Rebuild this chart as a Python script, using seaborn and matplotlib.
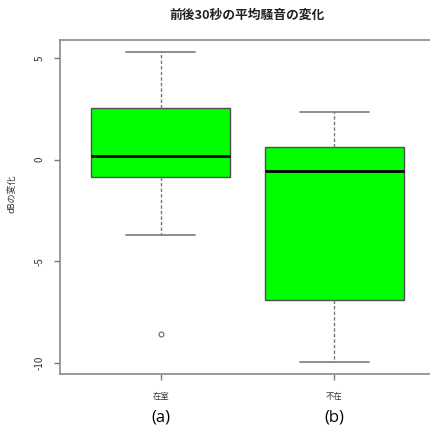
import pandas as pd
import seaborn as sns
from matplotlib import pyplot as plt
from matplotlib import transforms

# dB change (30 s before vs after)
present_db = [-8.59, -3.71, -0.84, -0.35, 0.17, 1.30, 2.55, 3.90, 5.27]
absent_db = [-9.93, -6.90, -0.57, 0.61, 2.35]
groups = ['在室', '不在']
panel_tags = ['(a)', '(b)']
y_ticks = [5, 0, -5, -10]

df = pd.DataFrame({
    'group': [groups[0]] * len(present_db) + [groups[1]] * len(absent_db),
    'db': present_db + absent_db,
})

sns.set_style('white')
plt.rcParams['font.family'] = ['Noto Sans CJK JP', 'DejaVu Sans']

fig = plt.figure(figsize=(4.31, 4.30), dpi=100)
ax = fig.add_axes([60 / 431, 1 - 374 / 430, 375 / 431, 334 / 430])

grey = '#7a7a7a'
sns.boxplot(
    data=df, x='group', y='db', order=groups, ax=ax,
    color='#00ff00', saturation=1, width=0.8,
    linecolor='#505050', linewidth=1,
    medianprops=dict(color='black', linewidth=2.0),
    whiskerprops=dict(color=grey, linestyle=(0, (2.5, 1.5)), linewidth=1),
    capprops=dict(color=grey, linewidth=1.2),
    flierprops=dict(marker='o', markersize=3.5, markerfacecolor='none',
                    markeredgecolor='#666666', markeredgewidth=0.8),
)

ax.set_xlim(-0.58, 1.58)
ax.set_ylim(-10.54, 5.88)

# R-like frame (right edge is cut off in the reference) and outward ticks
for side in ['left', 'top', 'bottom']:
    ax.spines[side].set_visible(True)
    ax.spines[side].set_color('#8a8a8a')
    ax.spines[side].set_linewidth(1.2)
ax.spines['right'].set_visible(False)
ax.tick_params(axis='both', direction='out', length=4, width=1, color='#777777',
               labelcolor='#333333')
ax.tick_params(axis='y', left=True, labelsize=7, pad=7)
ax.tick_params(axis='x', bottom=True, labelsize=6, pad=9)

ax.set_yticks(y_ticks)
ax.set_yticklabels([str(t) for t in y_ticks], rotation=90, va='center')
ax.set_xlabel('')
ax.set_ylabel('')

ax.text(-0.128, 0.54, 'dBの変化', transform=ax.transAxes, rotation=90,
        ha='center', va='center', fontsize=6.5, color='#333333')

fig.text(247.5 / 431, 1 - 15 / 430, '前後30秒の平均騒音の変化',
         ha='center', va='center', fontsize=9.2, fontweight='bold', color='#222222')

# (a) / (b) tags under the category labels
trans = transforms.blended_transform_factory(ax.transData, ax.transAxes)
for i, tag in enumerate(panel_tags):
    ax.text(i, -0.129, tag, transform=trans, ha='center', va='center',
            fontsize=12, family=['Open Sans', 'DejaVu Sans'], color='black')

fig.savefig('out.png', dpi=100)
